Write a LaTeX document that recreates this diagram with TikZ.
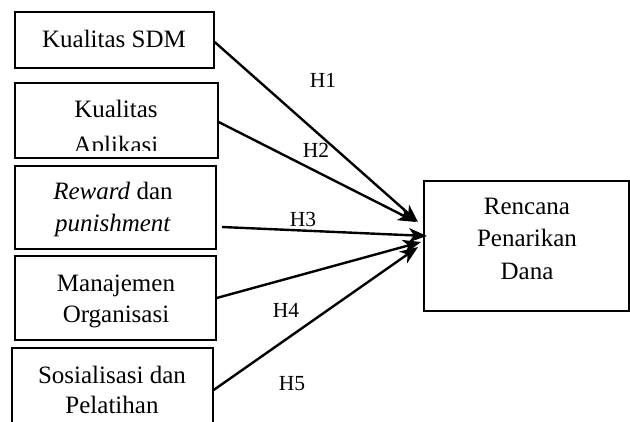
\documentclass[tikz,border=0pt]{standalone}
\usepackage{fontspec}
\setmainfont{Liberation Serif}
\usetikzlibrary{arrows.meta}
\tikzset{
  box/.style={draw, line width=1.3pt, inner sep=0pt, rectangle},
  lbl/.style={anchor=base, align=center, inner sep=0pt, font=\fontsize{25}{32}\selectfont},
  hlbl/.style={inner sep=0pt, font=\fontsize{21.5}{24}\selectfont},
  arr/.style={line width=2.4pt, -{Stealth[length=18pt,width=14pt,inset=5pt]}},
}
\begin{document}
\begin{tikzpicture}[x=1pt,y=-1pt]
\useasboundingbox (0,0) rectangle (630,421);
\clip (0,0) rectangle (630,421);
% boxes
\node[box, minimum width=199pt, minimum height=56pt] (b1) at (114.5,40) {};
\node[box, minimum width=203pt, minimum height=75pt] (b2) at (116.5,120.5) {};
\node[box, minimum width=201pt, minimum height=83pt] (b3) at (115.5,207.5) {};
\node[box, minimum width=201pt, minimum height=84pt] (b4) at (115.5,298) {};
\node[box, minimum width=201pt, minimum height=90pt] (b5) at (112.5,393) {};
\node[box, minimum width=205pt, minimum height=130pt] (r) at (526.5,246) {};
% texts (anchor base = baseline of last line)
\node[lbl] (t1) at (114,47) {Kualitas SDM};
\begin{scope}
\clip (15,83) rectangle (218,150);
\node[lbl] (t2) at (116,153) {Kualitas\\[4pt]Aplikasi};
\end{scope}
\node[lbl] (t3) at (113,231) {\textit{Reward} dan\\\textit{punishment}};
\node[lbl, font=\fontsize{25}{31}\selectfont] (t4) at (116,322) {Manajemen\\Organisasi};
\node[lbl, font=\fontsize{25}{30}\selectfont] (t5) at (112,413) {Sosialisasi dan\\Pelatihan};
\node[lbl, font=\fontsize{25}{32.5}\selectfont] (tr) at (527,279) {Rencana\\Penarikan\\Dana};
% hypothesis labels
\node[hlbl] (h1) at (323,80) {H1};
\node[hlbl] (h2) at (316,150) {H2};
\node[hlbl] (h3) at (303,219) {H3};
\node[hlbl] (h4) at (286,310) {H4};
\node[hlbl] (h5) at (292,384) {H5};
% connector endpoints
\coordinate (s3) at (222,227);
\coordinate (e1) at (418,222);
\coordinate (e2) at (416,222);
\coordinate (e3) at (427,236);
\coordinate (e4) at (421,242);
\coordinate (e5) at (418,247);
\draw[arr] ([yshift=-2pt]b1.east) -- (e1);
\draw[arr] ([yshift=-1.5pt]b2.east) -- (e2);
\draw[arr] (s3) -- (e3);
\draw[arr] (b4.east) -- (e4);
\draw[arr] ([yshift=3pt]b5.east) -- (e5);
\end{tikzpicture}
\end{document}
